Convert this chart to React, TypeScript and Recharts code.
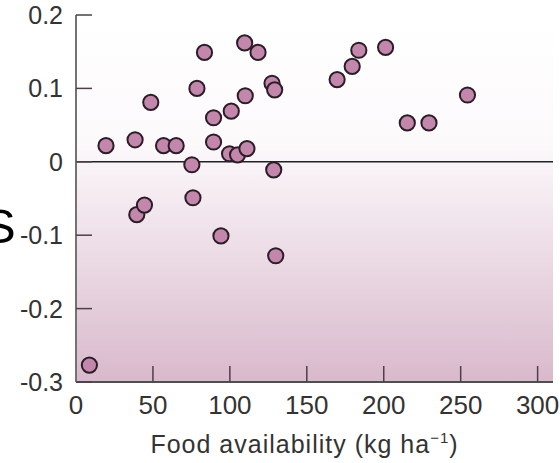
import React from 'react';
import { ScatterChart, Scatter, XAxis, YAxis, CartesianGrid, ReferenceLine, Label } from 'recharts';

// food availability (kg/ha) and the response value per site
const foodX = [
  8.7, 19.5, 38.4, 39.5, 44.5, 48.6, 56.9, 65.1, 75.3, 76, 78.6, 83.5, 89.4, 89.4, 94.2, 99.8, 100.9,
  105, 109.6, 110, 111.1, 118.3, 127.4, 129.1, 128.5, 129.8, 169.7, 179.5, 183.8, 201.2, 215.3, 229.4, 254.4,
];
const responseY = [
  -0.277, 0.022, 0.03, -0.072, -0.059, 0.081, 0.022, 0.022, -0.004, -0.049, 0.1, 0.149, 0.06, 0.027, -0.101,
  0.011, 0.069, 0.0095, 0.162, 0.09, 0.018, 0.149, 0.107, 0.098, -0.011, -0.128, 0.112, 0.13, 0.152, 0.156,
  0.053, 0.053, 0.091,
];
const xTicks = [0, 50, 100, 150, 200, 250, 300];
const yTicks = [-0.3, -0.2, -0.1, 0, 0.1, 0.2];

const data = foodX.map((x, i) => ({ x, y: responseY[i] }));

const FONT = '"Liberation Sans", Arial, Helvetica, sans-serif';
const TICK_COLOR = '#4d3f48';

const YTick = (props: any) => {
  const { x, y, payload } = props;
  return (
    <g>
      <line x1={x + 13} x2={x + 29} y1={y} y2={y} stroke={TICK_COLOR} strokeWidth={1.5} />
      <text x={x} y={y + 9} textAnchor="end" fontSize={25} fill="#333" fontFamily={FONT}>
        {payload.value}
      </text>
    </g>
  );
};

const XTick = (props: any) => {
  const { x, y, payload } = props;
  return (
    <g>
      {payload.value !== 0 && (
        <line x1={x} x2={x} y1={y - 32} y2={y - 48} stroke={TICK_COLOR} strokeWidth={1.5} />
      )}
      <text x={x} y={y} textAnchor="middle" fontSize={26} fill="#333" fontFamily={FONT}>
        {payload.value}
      </text>
    </g>
  );
};

const Dot = (props: any) => (
  <circle cx={props.cx} cy={props.cy} r={7.6} fill="#c287ab" stroke="#2b1d27" strokeWidth={2} />
);

const AxisTitle = (props: any) => {
  const vb = props.viewBox;
  return (
    <text
      x={vb.x + vb.width / 2 - 10}
      y={vb.y + 71}
      textAnchor="middle"
      fontSize={25}
      letterSpacing={1}
      fill="#333"
      fontFamily={FONT}
    >
      Food availability (kg ha
      <tspan fontSize={15} dy={-10}>−1</tspan>
      <tspan dy={10}>)</tspan>
    </text>
  );
};

export default function App() {
  return (
    <div style={{ position: 'absolute', left: 0, top: 0, width: 560, height: 463, background: '#fff', fontFamily: FONT }}>
      <ScatterChart width={560} height={463} margin={{ top: 15, right: 7, bottom: 0, left: 0 }}>
        <defs>
          <linearGradient id="bgGrad" x1="0" y1="0" x2="0" y2="1">
            <stop offset="0%" stopColor="#ffffff" />
            <stop offset="35%" stopColor="#fcf9fb" />
            <stop offset="100%" stopColor="#d9b9cc" />
          </linearGradient>
        </defs>
        <CartesianGrid horizontal={false} vertical={false} fill="url(#bgGrad)" />
        <XAxis
          type="number"
          dataKey="x"
          domain={[0, 310]}
          ticks={xTicks}
          height={81}
          tickSize={0}
          tickMargin={32}
          tick={<XTick />}
          axisLine={{ stroke: '#4f4f4f', strokeWidth: 2 }}
          tickLine={false}
          allowDataOverflow
        >
          <Label content={<AxisTitle />} />
        </XAxis>
        <YAxis
          type="number"
          dataKey="y"
          domain={[-0.3, 0.2]}
          ticks={yTicks}
          width={76}
          tickSize={0}
          tickMargin={13}
          tick={<YTick />}
          axisLine={{ stroke: '#737373', strokeWidth: 2 }}
          tickLine={false}
          allowDataOverflow
        />
        <ReferenceLine y={0} stroke="#222" strokeWidth={1.5} />
        <Scatter data={data} shape={<Dot />} isAnimationActive={false} />
      </ScatterChart>
      <div
        style={{
          position: 'absolute',
          left: -17,
          top: 196,
          fontSize: 49,
          lineHeight: '60px',
          color: '#000',
          fontFamily: FONT,
        }}
      >
        S
      </div>
    </div>
  );
}
